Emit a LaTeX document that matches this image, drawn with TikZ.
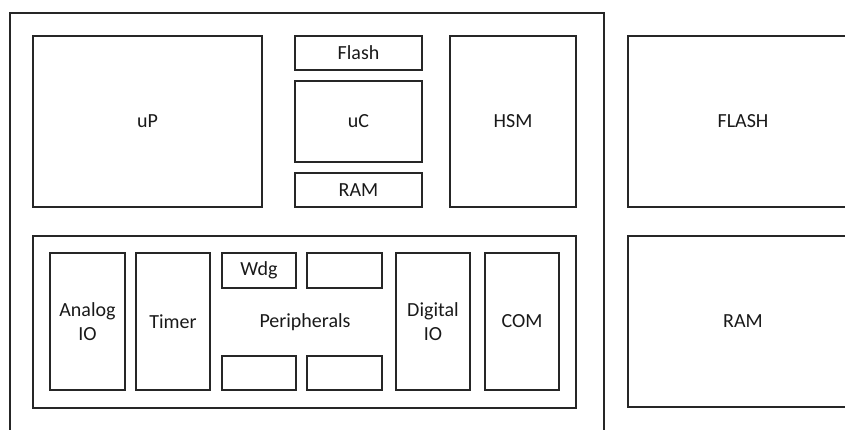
\documentclass[tikz,border=0pt]{standalone}
\usepackage{fontspec}
\setmainfont{Carlito}
\begin{document}
\begin{tikzpicture}[x=1pt,y=-1pt,
  blk/.style={draw=black!85, line width=1.2pt, rectangle, inner sep=0pt, align=center,
    font=\fontsize{20}{24}\selectfont, text=black!90},
  lbl/.style={inner sep=0pt, font=\fontsize{20}{24}\selectfont, text=black!90}]
\useasboundingbox (0,0) rectangle (845,430);
\begin{scope}
\clip (0,0) rectangle (845,430);
\draw[draw=black!85, line width=1.2pt] (10,445) -- (10,13) -- (604,13) -- (604,445);
\node[blk, minimum width=230pt, minimum height=171pt] (flashx) at (743,121.5) {FLASH};
\node[blk, minimum width=230pt, minimum height=171pt] (ramx) at (743,321.5) {RAM};
\end{scope}
\node[blk, minimum width=229pt, minimum height=171pt] (up) at (147.5,121.5) {uP};
\node[blk, minimum width=127pt, minimum height=34pt] (flash) at (358.5,53) {Flash};
\node[blk, minimum width=127pt, minimum height=81pt] (uc) at (358.5,121.5) {uC};
\node[blk, minimum width=127pt, minimum height=34pt] (ram) at (358.5,190) {RAM};
\node[blk, minimum width=126pt, minimum height=171pt] (hsm) at (513,121.5) {HSM};
\node[blk, minimum width=543pt, minimum height=172pt] (per) at (304.5,322) {};
\node[blk, minimum width=75pt, minimum height=137pt] (aio) at (87.5,321.5) {Analog\\IO};
\node[blk, minimum width=74pt, minimum height=137pt] (tim) at (173,321.5) {Timer};
\node[blk, minimum width=74pt, minimum height=35pt] (wdg) at (259,270.5) {Wdg};
\node[blk, minimum width=75pt, minimum height=35pt] (b1) at (344.5,270.5) {};
\node[blk, minimum width=74pt, minimum height=34pt] (b2) at (259,373) {};
\node[blk, minimum width=75pt, minimum height=34pt] (b3) at (344.5,373) {};
\node[lbl] (pertxt) at (305,322) {Peripherals};
\node[blk, minimum width=74pt, minimum height=137pt] (dio) at (433,321.5) {Digital\\IO};
\node[blk, minimum width=74pt, minimum height=137pt] (com) at (522,321.5) {COM};
\end{tikzpicture}
\end{document}
